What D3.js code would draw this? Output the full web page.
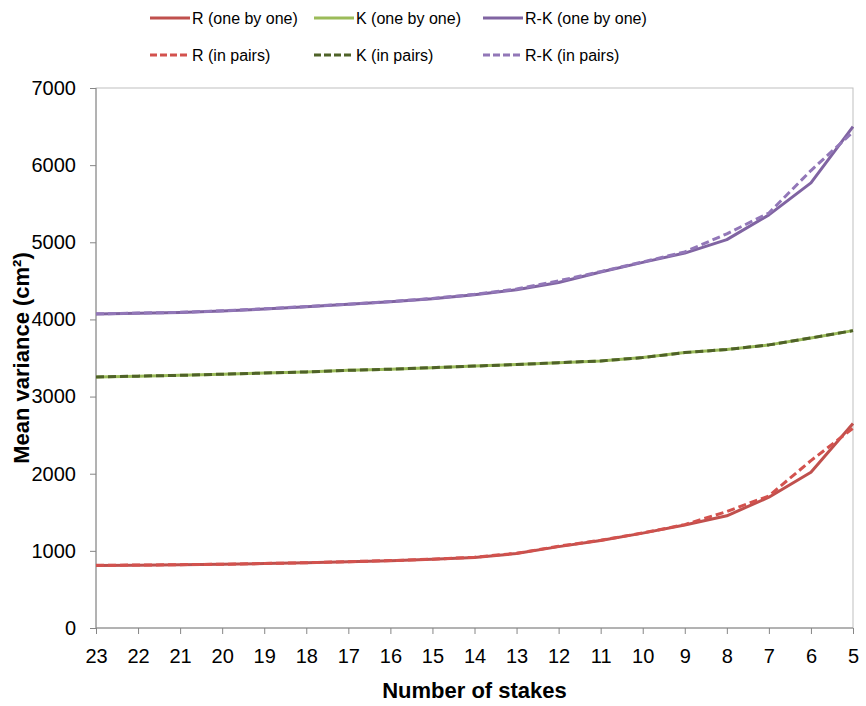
<!DOCTYPE html>
<html><head><meta charset="utf-8">
<script src="https://cdn.jsdelivr.net/npm/d3@7"></script>
<style>
body{margin:0;background:#fff;}
text{font-family:"Liberation Sans",Arial,sans-serif;fill:#000;}
</style></head>
<body><svg id="c" width="866" height="706"></svg>
<script>
const stakes = [23,22,21,20,19,18,17,16,15,14,13,12,11,10,9,8,7,6,5];
const yTicks = [0,1000,2000,3000,4000,5000,6000,7000];
const rOne   = [810,815,820,825,835,845,858,872,890,915,965,1055,1135,1230,1335,1455,1695,2020,2650];
const kOne   = [3255,3265,3275,3290,3305,3320,3340,3355,3375,3395,3415,3440,3462,3505,3570,3610,3670,3760,3855];
const rkOne  = [4070,4080,4090,4110,4135,4165,4196,4230,4268,4320,4385,4478,4615,4740,4860,5035,5355,5770,6500];
const rPair  = [812,816,821,826,836,846,860,874,892,918,968,1060,1138,1232,1340,1510,1712,2170,2590];
const kPair  = [3255,3265,3275,3290,3305,3320,3340,3355,3375,3395,3415,3440,3462,3505,3570,3610,3670,3760,3855];
const rkPair = [4072,4082,4092,4112,4137,4167,4198,4232,4272,4325,4395,4500,4620,4745,4875,5110,5380,5930,6430];
const seriesNames = ["R (one by one)","K (one by one)","R-K (one by one)","R (in pairs)","K (in pairs)","R-K (in pairs)"];
const seriesData = [rOne,kOne,rkOne,rPair,kPair,rkPair];
const colors = ["#C0504D","#9BBB59","#8064A2","#D3524E","#4F6228","#9277B8"];
const dashed = [false,false,false,true,true,true];

const svg = d3.select("#c");
const L=96, R=853, T=88, B=628;
const x = d3.scalePoint().domain(stakes).range([L,R]);
const y = d3.scaleLinear().domain([0,7000]).range([B,T]);

// plot border
svg.append("rect").attr("x",L).attr("y",T).attr("width",R-L).attr("height",B-T)
  .attr("fill","none").attr("stroke","#BFBFBF").attr("stroke-width",1);

const ya = svg.append("g").attr("transform",`translate(${L},0)`)
  .call(d3.axisLeft(y).tickValues(yTicks).tickSize(6).tickPadding(14).tickFormat(d3.format("d")));
ya.select(".domain").attr("stroke","#868686").attr("d",`M-0,${B}V${T}`);
ya.selectAll(".tick line").attr("stroke","#868686");
ya.selectAll(".tick text").style("font-size","20px").attr("fill","#000");

const xa = svg.append("g").attr("transform",`translate(0,${B})`)
  .call(d3.axisBottom(x).tickSize(6).tickPadding(15));
xa.select(".domain").attr("stroke","#868686").attr("d",`M${L},0H${R}`);
xa.selectAll(".tick line").attr("stroke","#868686");
xa.selectAll(".tick text").style("font-size","20px").attr("fill","#000");

const line = d3.line().x((d,i)=>x(stakes[i])).y(d=>y(d));
seriesData.forEach((s,i)=>{
  svg.append("path").attr("d",line(s)).attr("fill","none")
    .attr("stroke",colors[i]).attr("stroke-width",3)
    .attr("stroke-linejoin","round")
    .attr("stroke-dasharray",dashed[i]?"8,4":null);
});

// legend
const legX=[150,314,483], legY=[18,55];
seriesNames.forEach((n,i)=>{
  const col=i%3, row=Math.floor(i/3);
  const g=svg.append("g").attr("transform",`translate(${legX[col]},${legY[row]})`);
  g.append("line").attr("x1",0).attr("x2",40).attr("y1",0).attr("y2",0)
    .attr("stroke",colors[i]).attr("stroke-width",3)
    .attr("stroke-dasharray",dashed[i]?"7,3":null);
  g.append("text").attr("x",42).attr("y",0).attr("dy","0.35em")
    .style("font-size","16px").text(n);
});

svg.append("text").attr("x",(L+R)/2).attr("y",698).attr("text-anchor","middle")
  .style("font-size","22px").style("font-weight","bold").text("Number of stakes");
svg.append("text").attr("transform",`translate(29,${(T+B)/2}) rotate(-90)`)
  .attr("text-anchor","middle").style("font-size","22px").style("font-weight","bold")
  .text("Mean variance (cm²)");
</script></body></html>
